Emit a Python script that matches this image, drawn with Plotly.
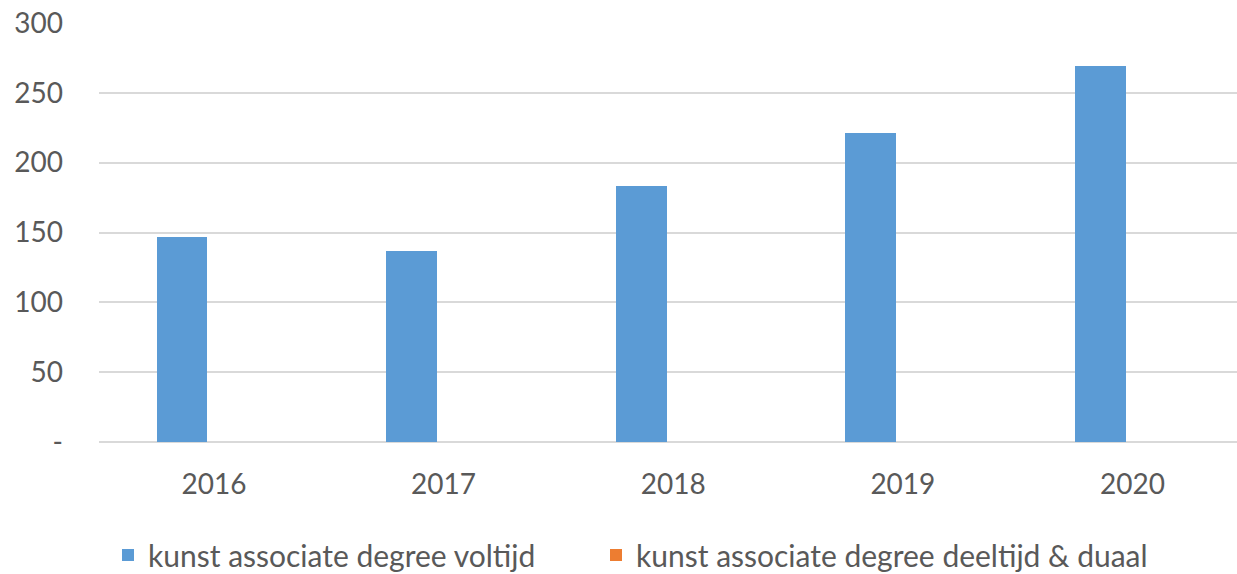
import plotly.graph_objects as go

years = ["2016", "2017", "2018", "2019", "2020"]
voltijd = [147, 137, 183, 221, 269]
deeltijd_duaal = [0, 0, 0, 0, 0]
y_ticks = [0, 50, 100, 150, 200, 250, 300]
y_ticktext = ["-", "50", "100", "150", "200", "250", "300"]

FONT = "Lato"
TXT = "#595959"
W, H = 1237, 574

fig = go.Figure()
fig.add_trace(go.Bar(
    x=years, y=voltijd, name="kunst associate degree voltijd",
    marker=dict(color="#5B9BD5", line=dict(width=0)),
    width=0.222, offset=-0.25, legend="legend",
))
fig.add_trace(go.Bar(
    x=years, y=deeltijd_duaal, name="kunst associate degree deeltijd & duaal",
    marker=dict(color="#ED7D31", line=dict(width=0)),
    width=0.222, offset=0.035, legend="legend2",
))

leg_common = dict(
    orientation="h", yanchor="middle", xanchor="left",
    xref="container", yref="container",
    font=dict(family=FONT, size=30, color=TXT),
    bgcolor="rgba(0,0,0,0)",
    itemclick=False, itemdoubleclick=False,
)

fig.update_layout(
    width=W, height=H,
    margin=dict(l=99, r=0, t=23, b=132, autoexpand=False),
    paper_bgcolor="white", plot_bgcolor="white",
    font=dict(family=FONT, size=28, color=TXT),
    showlegend=True,
    legend=dict(x=108 / W, y=1 - 555 / H, **leg_common),
    legend2=dict(x=596 / W, y=1 - 555 / H, **leg_common),
    bargap=0.0,
)
fig.update_xaxes(
    type="category", range=[-0.5004, 4.455], automargin=False,
    showgrid=False, showline=False, zeroline=False,
    ticks="", tickfont=dict(family=FONT, size=28, color=TXT),
    ticklabelstandoff=23,
)
fig.update_yaxes(
    range=[0, 300], tickvals=y_ticks, ticktext=y_ticktext, automargin=False,
    showgrid=True, gridcolor="#D9D9D9", gridwidth=1.8,
    zeroline=True, zerolinecolor="#D9D9D9", zerolinewidth=1.8,
    showline=False, ticks="",
    tickfont=dict(family=FONT, size=28, color=TXT),
    ticklabelstandoff=35,
)

fig.write_html(
    "out.html",
    config={"displayModeBar": False},
    post_script="document.body.style.margin='0';document.body.style.overflow='hidden';",
)
